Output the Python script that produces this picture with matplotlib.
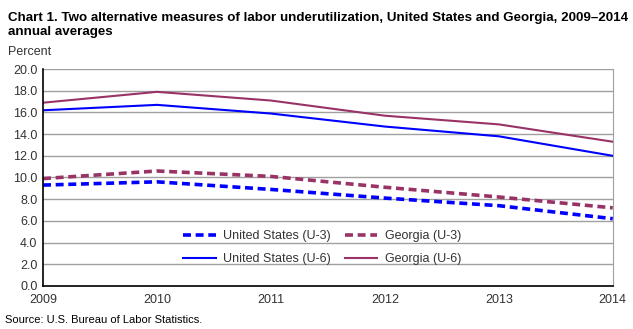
import matplotlib.pyplot as plt

plt.rcParams['font.family'] = ['Liberation Sans', 'DejaVu Sans']

years = [2009, 2010, 2011, 2012, 2013, 2014]
us_u3 = [9.3, 9.6, 8.9, 8.1, 7.4, 6.2]
ga_u3 = [9.9, 10.6, 10.1, 9.1, 8.2, 7.2]
us_u6 = [16.2, 16.7, 15.9, 14.7, 13.8, 12.0]
ga_u6 = [16.9, 17.9, 17.1, 15.7, 14.9, 13.3]

blue = '#0000ff'
maroon = '#993366'

fig = plt.figure(figsize=(6.33, 3.29), dpi=100)
ax = fig.add_axes([0.068, 0.131, 0.9, 0.659])

# plotted in this order so the two-column legend reads U-3 on top, U-6 below
ax.plot(years, us_u3, color=blue, lw=2.6, dashes=(2.2, 1.3), label='United States (U-3)')
ax.plot(years, us_u6, color=blue, lw=1.5, label='United States (U-6)')
ax.plot(years, ga_u3, color=maroon, lw=2.6, dashes=(2.2, 1.3), label='Georgia (U-3)')
ax.plot(years, ga_u6, color=maroon, lw=1.5, label='Georgia (U-6)')

ax.set_xlim(2009, 2014)
ax.set_ylim(0, 20)
ax.set_yticks([i * 2 for i in range(11)])
ax.set_yticklabels([f'{i * 2:.1f}' for i in range(11)])
ax.set_xticks(years)
ax.yaxis.grid(True, color='#a0a0a0', lw=1)
ax.set_axisbelow(True)
ax.tick_params(length=0, labelsize=9, colors='#333333', pad=4)
ax.tick_params(axis='x', pad=6)
for side in ['left', 'bottom']:
    ax.spines[side].set_color('black')
    ax.spines[side].set_linewidth(1.2)
ax.spines['top'].set_visible(False)
ax.spines['right'].set_color('#a0a0a0')

ax.legend(loc='lower center', bbox_to_anchor=(0.49, 0.045), ncol=2, frameon=False,
          fontsize=9, handlelength=2.6, columnspacing=1.1, labelspacing=0.85,
          handletextpad=0.6, labelcolor='#333333')

fig.text(0.013, 0.965, 'Chart 1. Two alternative measures of labor underutilization, '
         'United States and Georgia, 2009\u20132014\nannual averages',
         fontsize=9.6, fontweight='bold', va='top', ha='left', linespacing=1.3)
fig.text(0.013, 0.825, 'Percent', fontsize=9, color='#333333', va='bottom')
fig.text(0.008, 0.012, 'Source: U.S. Bureau of Labor Statistics.', fontsize=8, va='bottom')

fig.savefig('out.png', dpi=100)
